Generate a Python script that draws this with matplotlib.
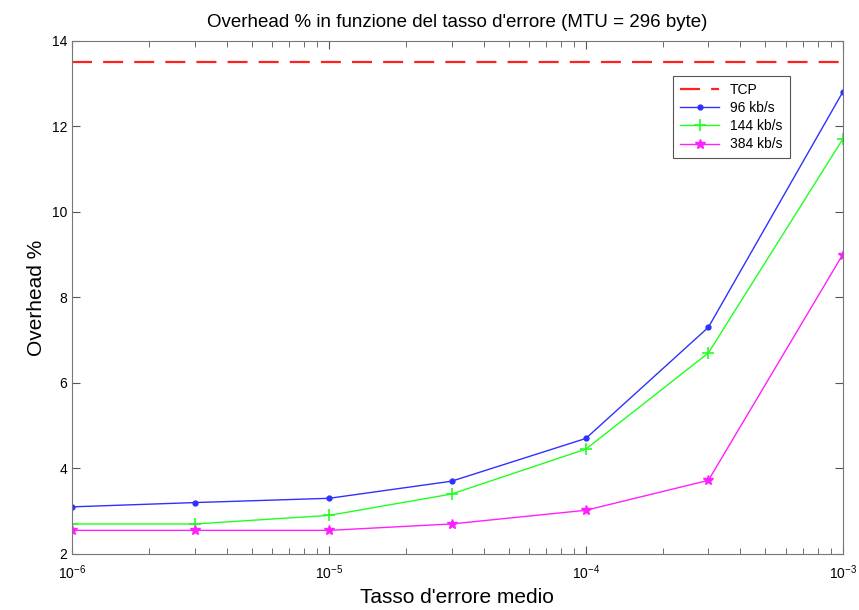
import numpy as np
import matplotlib
matplotlib.use('Agg')
from matplotlib import pyplot as plt
from matplotlib.ticker import LogLocator, NullFormatter

plt.rcParams['font.family'] = ['Liberation Sans', 'DejaVu Sans']

# error rates
ber = [1e-6, 3e-6, 1e-5, 3e-5, 1e-4, 3e-4, 1e-3]
tcp = 13.5
ovh_96 = [3.1, 3.2, 3.3, 3.7, 4.7, 7.3, 12.8]
ovh_144 = [2.7, 2.7, 2.9, 3.4, 4.45, 6.7, 11.7]
ovh_384 = [2.55, 2.55, 2.55, 2.7, 3.02, 3.72, 9.0]
labels = ['TCP', '96 kb/s', '144 kb/s', '384 kb/s']

fig = plt.figure(figsize=(8.59, 6.10), dpi=100)
ax = fig.add_axes([0.084, 0.092, 0.897, 0.841])

p0, = ax.plot([ber[0], ber[-1]], [tcp, tcp], color='#ff2020', lw=1.6, dashes=(9, 5))
p1, = ax.plot(ber, ovh_96, color='#3030ff', lw=1, marker='.', ms=7)
p2, = ax.plot(ber, ovh_144, color='#20ff20', lw=1, marker='+', ms=9, mew=1.2)
p3, = ax.plot(ber, ovh_384, color='#ff20ff', lw=1, marker='*', ms=7)

ax.set_xscale('log')
ax.set_xlim(1e-6, 1e-3)
ax.set_ylim(2, 14)
ax.set_yticks(np.arange(2, 15, 2))
ax.xaxis.set_minor_locator(LogLocator(base=10, subs=np.arange(2, 10)))
ax.xaxis.set_minor_formatter(NullFormatter())

ax.tick_params(which='both', direction='in', top=True, right=True, colors='#555555',
               labelcolor='black', labelsize=10)
ax.tick_params(which='major', length=6)
ax.tick_params(which='minor', length=4)
ax.tick_params(axis='x', which='major', pad=7)
for s in ax.spines.values():
    s.set_color('#777777')

ax.set_title("Overhead % in funzione del tasso d'errore (MTU = 296 byte)", fontsize=13.5, pad=10)
ax.set_xlabel("Tasso d'errore medio", fontsize=15, labelpad=4)
ax.set_ylabel("Overhead %", fontsize=15)

leg = ax.legend([p0, p1, p2, p3], labels, loc='upper right', bbox_to_anchor=(0.94, 0.945),
                fontsize=10, fancybox=False, framealpha=1, edgecolor='#555555',
                handlelength=2.8, borderpad=0.5, labelspacing=0.3)
leg.get_frame().set_linewidth(0.8)

plt.savefig('out.png')
